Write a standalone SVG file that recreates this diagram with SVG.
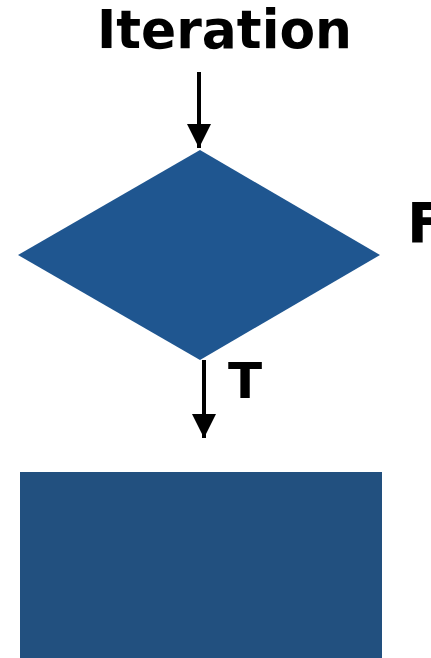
<svg xmlns="http://www.w3.org/2000/svg" width="431" height="658" viewBox="0 0 431 658">
<defs>
<style>
.lbl{font-family:"DejaVu Sans","Liberation Sans",sans-serif;font-weight:bold;fill:#000}
.conn{stroke:#000;stroke-width:4;fill:none}
</style>
<marker id="ah" viewBox="0 0 10 10" refX="10" refY="5" markerWidth="6" markerHeight="6" markerUnits="strokeWidth" orient="auto">
<path d="M0,0 L10,5 L0,10 Z" fill="#000"/>
</marker>
</defs>
<rect width="431" height="658" fill="#fff"/>
<g id="title"><text class="lbl" x="97" y="48" font-size="53" textLength="255" lengthAdjust="spacingAndGlyphs">Iteration</text></g>
<g id="decision"><polygon points="200,150 380,255 200,360 18,255" fill="#1f5690"/></g>
<g id="process"><rect x="20" y="472" width="362" height="186" fill="#22507f"/></g>
<g id="labels">
<text class="lbl" x="407" y="242" font-size="56">F</text>
<text class="lbl" x="228" y="398" font-size="50">T</text>
</g>
<g id="connectors">
<line class="conn" x1="199" y1="72" x2="199" y2="148" marker-end="url(#ah)"/>
<line class="conn" x1="204" y1="360" x2="204" y2="438" marker-end="url(#ah)"/>
</g>
</svg>
